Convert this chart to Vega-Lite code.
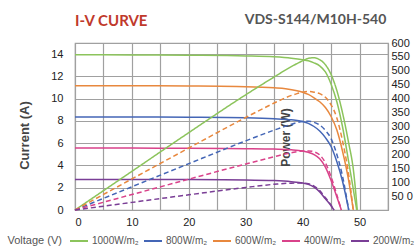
{
  "$schema": "https://vega.github.io/schema/vega-lite/v6.json",
  "width": 313,
  "height": 167,
  "autosize": {"type": "none"},
  "padding": {"left": 75, "top": 43, "right": 29, "bottom": 36},
  "background": "white",
  "title": {"text": "I-V CURVE", "anchor": "start", "frame": "group", "color": "#c0392b", "font": "Lato", "fontSize": 15, "fontWeight": "bold", "offset": 0, "dy": 17},
  "config": {"view": {"stroke": "#a0a0a0", "strokeWidth": 1.2}},
  "datasets": {
    "iv": [
      {"series": "1000W/m₂", "V": 0, "I": 13.95}, {"series": "1000W/m₂", "V": 10, "I": 13.93}, {"series": "1000W/m₂", "V": 20, "I": 13.9}, {"series": "1000W/m₂", "V": 30, "I": 13.84}, {"series": "1000W/m₂", "V": 35, "I": 13.76}, {"series": "1000W/m₂", "V": 38, "I": 13.64}, {"series": "1000W/m₂", "V": 40, "I": 13.5}, {"series": "1000W/m₂", "V": 41, "I": 13.4}, {"series": "1000W/m₂", "V": 42, "I": 13.22}, {"series": "1000W/m₂", "V": 43, "I": 12.95}, {"series": "1000W/m₂", "V": 44, "I": 12.4}, {"series": "1000W/m₂", "V": 45, "I": 11.3}, {"series": "1000W/m₂", "V": 46, "I": 9.75}, {"series": "1000W/m₂", "V": 47, "I": 7.5}, {"series": "1000W/m₂", "V": 48, "I": 4.6}, {"series": "1000W/m₂", "V": 48.8, "I": 2.2}, {"series": "1000W/m₂", "V": 49.5, "I": 0},
      {"series": "800W/m₂", "V": 0, "I": 8.36}, {"series": "800W/m₂", "V": 10, "I": 8.35}, {"series": "800W/m₂", "V": 20, "I": 8.33}, {"series": "800W/m₂", "V": 30, "I": 8.28}, {"series": "800W/m₂", "V": 35, "I": 8.2}, {"series": "800W/m₂", "V": 38, "I": 8.1}, {"series": "800W/m₂", "V": 40, "I": 7.95}, {"series": "800W/m₂", "V": 41, "I": 7.78}, {"series": "800W/m₂", "V": 42, "I": 7.5}, {"series": "800W/m₂", "V": 43, "I": 7.1}, {"series": "800W/m₂", "V": 44, "I": 6.5}, {"series": "800W/m₂", "V": 45, "I": 5.7}, {"series": "800W/m₂", "V": 46, "I": 4.35}, {"series": "800W/m₂", "V": 47, "I": 2.6}, {"series": "800W/m₂", "V": 48.1, "I": 0},
      {"series": "600W/m₂", "V": 0, "I": 11.17}, {"series": "600W/m₂", "V": 10, "I": 11.16}, {"series": "600W/m₂", "V": 20, "I": 11.14}, {"series": "600W/m₂", "V": 30, "I": 11.08}, {"series": "600W/m₂", "V": 35, "I": 10.98}, {"series": "600W/m₂", "V": 37, "I": 10.9}, {"series": "600W/m₂", "V": 39, "I": 10.72}, {"series": "600W/m₂", "V": 40, "I": 10.58}, {"series": "600W/m₂", "V": 41, "I": 10.38}, {"series": "600W/m₂", "V": 42, "I": 10.08}, {"series": "600W/m₂", "V": 43, "I": 9.72}, {"series": "600W/m₂", "V": 44, "I": 9.2}, {"series": "600W/m₂", "V": 45, "I": 8.4}, {"series": "600W/m₂", "V": 46, "I": 7.2}, {"series": "600W/m₂", "V": 47, "I": 5.3}, {"series": "600W/m₂", "V": 48, "I": 2.9}, {"series": "600W/m₂", "V": 48.9, "I": 0},
      {"series": "400W/m₂", "V": 0, "I": 5.57}, {"series": "400W/m₂", "V": 10, "I": 5.56}, {"series": "400W/m₂", "V": 20, "I": 5.54}, {"series": "400W/m₂", "V": 30, "I": 5.51}, {"series": "400W/m₂", "V": 35, "I": 5.47}, {"series": "400W/m₂", "V": 38, "I": 5.41}, {"series": "400W/m₂", "V": 40, "I": 5.3}, {"series": "400W/m₂", "V": 41, "I": 5.18}, {"series": "400W/m₂", "V": 42, "I": 4.98}, {"series": "400W/m₂", "V": 43, "I": 4.6}, {"series": "400W/m₂", "V": 44, "I": 3.85}, {"series": "400W/m₂", "V": 45, "I": 2.65}, {"series": "400W/m₂", "V": 46, "I": 1.2}, {"series": "400W/m₂", "V": 46.8, "I": 0},
      {"series": "200W/m₂", "V": 0, "I": 2.74}, {"series": "200W/m₂", "V": 10, "I": 2.74}, {"series": "200W/m₂", "V": 20, "I": 2.73}, {"series": "200W/m₂", "V": 30, "I": 2.7}, {"series": "200W/m₂", "V": 35, "I": 2.64}, {"series": "200W/m₂", "V": 38, "I": 2.54}, {"series": "200W/m₂", "V": 40, "I": 2.42}, {"series": "200W/m₂", "V": 41, "I": 2.3}, {"series": "200W/m₂", "V": 42, "I": 2.05}, {"series": "200W/m₂", "V": 43, "I": 1.62}, {"series": "200W/m₂", "V": 44, "I": 1.0}, {"series": "200W/m₂", "V": 45, "I": 0.38}, {"series": "200W/m₂", "V": 45.5, "I": 0}
    ],
    "pw": [
      {"series": "1000W/m₂", "V": 0, "P": 0}, {"series": "1000W/m₂", "V": 10, "P": 139}, {"series": "1000W/m₂", "V": 20, "P": 278}, {"series": "1000W/m₂", "V": 30, "P": 414}, {"series": "1000W/m₂", "V": 35, "P": 478}, {"series": "1000W/m₂", "V": 38, "P": 515}, {"series": "1000W/m₂", "V": 40, "P": 536}, {"series": "1000W/m₂", "V": 41, "P": 545}, {"series": "1000W/m₂", "V": 42, "P": 547}, {"series": "1000W/m₂", "V": 43, "P": 540}, {"series": "1000W/m₂", "V": 44, "P": 522}, {"series": "1000W/m₂", "V": 45, "P": 487}, {"series": "1000W/m₂", "V": 46, "P": 430}, {"series": "1000W/m₂", "V": 47, "P": 350}, {"series": "1000W/m₂", "V": 48, "P": 250}, {"series": "1000W/m₂", "V": 49, "P": 130}, {"series": "1000W/m₂", "V": 49.6, "P": 0},
      {"series": "800W/m₂", "V": 0, "P": 0}, {"series": "800W/m₂", "V": 10, "P": 83.5}, {"series": "800W/m₂", "V": 20, "P": 166.6}, {"series": "800W/m₂", "V": 30, "P": 248.4}, {"series": "800W/m₂", "V": 35, "P": 287}, {"series": "800W/m₂", "V": 38, "P": 307.8}, {"series": "800W/m₂", "V": 40, "P": 318}, {"series": "800W/m₂", "V": 41, "P": 319}, {"series": "800W/m₂", "V": 42, "P": 315}, {"series": "800W/m₂", "V": 43, "P": 305.3}, {"series": "800W/m₂", "V": 44, "P": 286}, {"series": "800W/m₂", "V": 45, "P": 256.5}, {"series": "800W/m₂", "V": 46, "P": 200.1}, {"series": "800W/m₂", "V": 47, "P": 122.2}, {"series": "800W/m₂", "V": 48.1, "P": 0},
      {"series": "600W/m₂", "V": 0, "P": 0}, {"series": "600W/m₂", "V": 10, "P": 111.6}, {"series": "600W/m₂", "V": 20, "P": 222.8}, {"series": "600W/m₂", "V": 30, "P": 332.4}, {"series": "600W/m₂", "V": 35, "P": 384.3}, {"series": "600W/m₂", "V": 37, "P": 403.3}, {"series": "600W/m₂", "V": 39, "P": 418.1}, {"series": "600W/m₂", "V": 40, "P": 423.2}, {"series": "600W/m₂", "V": 41, "P": 425.6}, {"series": "600W/m₂", "V": 42, "P": 423.4}, {"series": "600W/m₂", "V": 43, "P": 418}, {"series": "600W/m₂", "V": 44, "P": 404.8}, {"series": "600W/m₂", "V": 45, "P": 378}, {"series": "600W/m₂", "V": 46, "P": 331.2}, {"series": "600W/m₂", "V": 47, "P": 249.1}, {"series": "600W/m₂", "V": 48, "P": 139.2}, {"series": "600W/m₂", "V": 48.9, "P": 0},
      {"series": "400W/m₂", "V": 0, "P": 0}, {"series": "400W/m₂", "V": 10, "P": 55.6}, {"series": "400W/m₂", "V": 20, "P": 110.8}, {"series": "400W/m₂", "V": 30, "P": 165.3}, {"series": "400W/m₂", "V": 35, "P": 191.5}, {"series": "400W/m₂", "V": 38, "P": 205.6}, {"series": "400W/m₂", "V": 40, "P": 212}, {"series": "400W/m₂", "V": 41, "P": 212.4}, {"series": "400W/m₂", "V": 42, "P": 209.2}, {"series": "400W/m₂", "V": 43, "P": 197.8}, {"series": "400W/m₂", "V": 44, "P": 169.4}, {"series": "400W/m₂", "V": 45, "P": 119.3}, {"series": "400W/m₂", "V": 46, "P": 55.2}, {"series": "400W/m₂", "V": 46.8, "P": 0},
      {"series": "200W/m₂", "V": 0, "P": 0}, {"series": "200W/m₂", "V": 10, "P": 27.4}, {"series": "200W/m₂", "V": 20, "P": 54.6}, {"series": "200W/m₂", "V": 30, "P": 81}, {"series": "200W/m₂", "V": 35, "P": 92.4}, {"series": "200W/m₂", "V": 38, "P": 96.5}, {"series": "200W/m₂", "V": 40, "P": 96.8}, {"series": "200W/m₂", "V": 41, "P": 94.3}, {"series": "200W/m₂", "V": 42, "P": 86.1}, {"series": "200W/m₂", "V": 43, "P": 69.7}, {"series": "200W/m₂", "V": 44, "P": 44}, {"series": "200W/m₂", "V": 45, "P": 17.1}, {"series": "200W/m₂", "V": 45.5, "P": 0}
    ]
  },
  "layer": [
    {
      "data": {"name": "iv"},
      "mark": {"type": "line", "interpolate": "monotone", "strokeWidth": 1.5},
      "encoding": {
        "x": {"field": "V", "type": "quantitative", "scale": {"domain": [0, 55], "nice": false},
          "axis": {"orient": "bottom", "values": [0, 5, 10, 15, 20, 25, 30, 35, 40, 45, 50, 55], "labelExpr": "datum.value % 10 == 0 && datum.value <= 50 ? datum.label : ''", "grid": true, "gridColor": "#a0a0a0", "gridWidth": 1.2, "ticks": false, "labelPadding": 6, "labelFont": "Liberation Sans", "labelFontSize": 11, "labelColor": "#222", "domainColor": "#a0a0a0", "title": "Voltage (V)", "titleFont": "Liberation Sans", "titleFontSize": 11, "titleFontWeight": "normal", "titleColor": "#555", "titleAlign": "left", "titleBaseline": "middle", "titleX": -68, "titleY": 30}},
        "y": {"field": "I", "type": "quantitative", "scale": {"domain": [0, 15], "nice": false},
          "axis": {"orient": "left", "values": [0, 2, 4, 6, 8, 10, 12, 14], "grid": true, "gridColor": "#a0a0a0", "gridWidth": 1.2, "ticks": false, "labelPadding": 12, "labelFont": "Liberation Sans", "labelFontSize": 11, "labelColor": "#222", "domainColor": "#a0a0a0", "title": "Current (A)", "titleFont": "Liberation Sans", "titleFontSize": 13, "titleFontWeight": "bold", "titleColor": "#444", "titleAngle": -90, "titleAlign": "center", "titleBaseline": "middle", "titleX": -51, "titleY": 92}},
        "color": {"field": "series", "type": "nominal",
          "scale": {"domain": ["1000W/m₂", "800W/m₂", "600W/m₂", "400W/m₂", "200W/m₂"], "range": ["#8cc45c", "#4466b6", "#e8883e", "#d9428a", "#7a3e96"]},
          "legend": {"orient": "none", "legendX": -6, "legendY": 188, "direction": "horizontal", "title": null, "symbolType": "stroke", "symbolSize": 324, "symbolStrokeWidth": 2, "symbolDash": [1, 0], "labelFont": "Liberation Sans", "labelFontSize": 10, "labelColor": "#555", "labelOffset": 3, "columnPadding": 1}}
      }
    },
    {
      "data": {"name": "pw"},
      "mark": {"type": "line", "interpolate": "monotone", "strokeWidth": 1.5},
      "encoding": {
        "x": {"field": "V", "type": "quantitative", "scale": {"domain": [0, 55], "nice": false},
          "axis": {"orient": "top", "labels": false, "ticks": false, "domain": false, "grid": false, "title": "VDS-S144/M10H-540", "titleFont": "Lato", "titleFontSize": 14, "titleFontWeight": "bold", "titleColor": "#555", "titleAlign": "center", "titleBaseline": "middle", "titleX": 240, "titleY": -24}},
        "y": {"field": "P", "type": "quantitative", "scale": {"domain": [0, 600], "nice": false},
          "axis": {"orient": "right", "values": [0, 50, 100, 150, 200, 250, 300, 350, 400, 450, 500, 550, 600], "labelExpr": "datum.value == 0 ? '' : datum.value == 50 ? '\u200750 0' : datum.label", "grid": false, "ticks": false, "domain": false, "labelPadding": 3, "labelFont": "Liberation Sans", "labelFontSize": 11, "labelColor": "#222", "title": "Power (W)", "titleFont": "Liberation Sans", "titleFontSize": 12, "titleFontWeight": "bold", "titleColor": "#444", "titleAngle": -90, "titleAlign": "center", "titleBaseline": "middle", "titleX": -103, "titleY": 94}},
        "color": {"field": "series", "type": "nominal"},
        "strokeDash": {"condition": {"test": "datum.series == '1000W/m₂'", "value": [1, 0]}, "value": [5, 3]}
      }
    }
  ],
  "resolve": {"scale": {"y": "independent"}, "axis": {"x": "independent"}}
}
